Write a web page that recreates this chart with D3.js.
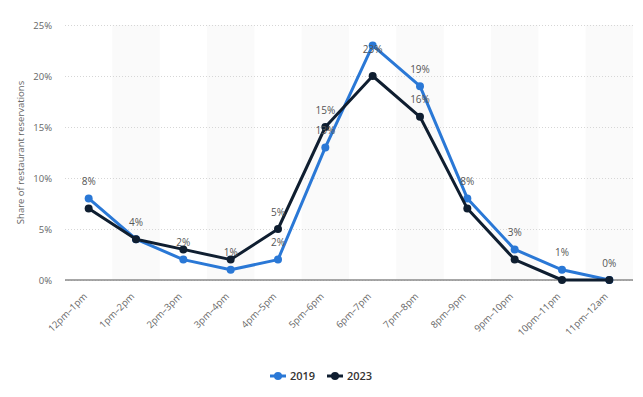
<!DOCTYPE html>
<html>
<head>
<meta charset="utf-8">
<script src="https://cdn.jsdelivr.net/npm/d3@7"></script>
<style>
  body { margin: 0; background: #fff; font-family: "Open Sans", "DejaVu Sans", sans-serif; }
  svg { display: block; }
</style>
</head>
<body>
<script>
const categories = ["12pm\u20131pm", "1pm\u20132pm", "2pm\u20133pm", "3pm\u20134pm", "4pm\u20135pm", "5pm\u20136pm",
  "6pm\u20137pm", "7pm\u20138pm", "8pm\u20139pm", "9pm\u201310pm", "10pm\u201311pm", "11pm\u201312am"];
const values2019 = [8, 4, 2, 1, 2, 13, 23, 19, 8, 3, 1, 0];
const values2023 = [7, 4, 3, 2, 5, 15, 20, 16, 7, 2, 0, 0];
const yTicks = [0, 5, 10, 15, 20, 25];

const series = [
  { name: "2019", values: values2019, color: "#2a78d6" },
  { name: "2023", values: values2023, color: "#0f1e30" }
];

const w = 643;
const h = 397;
const padLeft = 65, padRight = 633, padTop = 25, padBottom = 280;

const svg = d3.select("body").append("svg").attr("width", w).attr("height", h);

const xScale = d3.scaleBand().domain(categories).range([padLeft, padRight]);
const yScale = d3.scaleLinear().domain([0, 25]).range([padBottom, padTop]);

// alternating background bands
svg.append("g")
  .selectAll("rect")
  .data(categories.filter((d, i) => i % 2 === 1))
  .enter()
  .append("rect")
  .attr("x", (d) => xScale(d))
  .attr("y", padTop)
  .attr("width", xScale.bandwidth())
  .attr("height", padBottom - padTop)
  .attr("fill", "#fafafa");

// y grid + labels
const yAxis = d3.axisLeft(yScale).tickValues(yTicks).tickFormat((d) => d + "%").tickSize(-(padRight - padLeft)).tickPadding(13);
const gy = svg.append("g").attr("transform", "translate(" + padLeft + ",0)").call(yAxis);
gy.select(".domain").remove();
gy.selectAll(".tick line").attr("stroke", "#d6d6d6").attr("stroke-dasharray", "1,2");
gy.selectAll(".tick text").attr("fill", "#666").style("font-size", "9.5px").style("font-family", "Open Sans");

// zero line
svg.append("line")
  .attr("x1", padLeft).attr("x2", padRight)
  .attr("y1", yScale(0)).attr("y2", yScale(0))
  .attr("stroke", "#8a8a8a").attr("stroke-width", 1.5);

// x labels
const xAxis = d3.axisBottom(xScale).tickSize(0);
const gx = svg.append("g").attr("transform", "translate(0," + padBottom + ")").call(xAxis);
gx.select(".domain").remove();
gx.selectAll(".tick text")
  .attr("fill", "#666")
  .style("font-size", "9.5px")
  .style("font-family", "Open Sans")
  .attr("text-anchor", "end")
  .attr("transform", "translate(-5,13) rotate(-45)")
  .attr("dy", "0.6em")
  .attr("y", 0);

// y title
svg.append("text")
  .attr("transform", "translate(24," + (padTop + padBottom) / 2 + ") rotate(-90)")
  .attr("text-anchor", "middle")
  .attr("fill", "#666")
  .style("font-size", "9.5px")
  .style("font-family", "Open Sans")
  .text("Share of restaurant reservations");

const cx = (d) => xScale(d) + xScale.bandwidth() / 2;

// lines and markers
series.forEach((s) => {
  const line = d3.line().x((d, i) => cx(categories[i])).y((d) => yScale(d));
  svg.append("path")
    .datum(s.values)
    .attr("d", line)
    .attr("fill", "none")
    .attr("stroke", s.color)
    .attr("stroke-width", 3)
    .attr("stroke-linejoin", "round");
  svg.append("g")
    .selectAll("circle")
    .data(s.values)
    .enter()
    .append("circle")
    .attr("cx", (d, i) => cx(categories[i]))
    .attr("cy", (d) => yScale(d))
    .attr("r", 4)
    .attr("fill", s.color);
});

// data labels, hiding overlapping ones
const placed = [];
const labelLayer = svg.append("g");
series.forEach((s) => {
  s.values.forEach((v, i) => {
    const x = cx(categories[i]);
    const y = Math.max(yScale(v) - 17, padTop + 24);
    const txt = v + "%";
    const bw = txt.length * 6 + 2, bh = 12;
    const box = { x0: x - bw / 2, x1: x + bw / 2, y0: y - bh / 2, y1: y + bh / 2 };
    const hit = placed.some((b) => b.x0 < box.x1 && box.x0 < b.x1 && b.y0 < box.y1 && box.y0 < b.y1);
    if (hit) return;
    placed.push(box);
    labelLayer.append("text")
      .attr("x", x)
      .attr("y", y)
      .attr("dy", "0.35em")
      .attr("text-anchor", "middle")
      .attr("fill", "#555")
      .style("font-size", "10px")
      .style("font-family", "Open Sans")
      .text(txt);
  });
});

// legend
const legend = svg.append("g").attr("transform", "translate(270,376)");
series.forEach((s, i) => {
  const g = legend.append("g").attr("transform", "translate(" + i * 57 + ",0)");
  g.append("line").attr("x1", 0).attr("x2", 16).attr("y1", 0).attr("y2", 0).attr("stroke", s.color).attr("stroke-width", 3);
  g.append("circle").attr("cx", 8).attr("cy", 0).attr("r", 4).attr("fill", s.color);
  g.append("text")
    .attr("x", 20)
    .attr("y", 0)
    .attr("dy", "0.35em")
    .attr("fill", "#333")
    .style("font-size", "11px")
    .style("font-weight", "600")
    .style("font-family", "Open Sans")
    .text(s.name);
});
</script>
</body>
</html>
